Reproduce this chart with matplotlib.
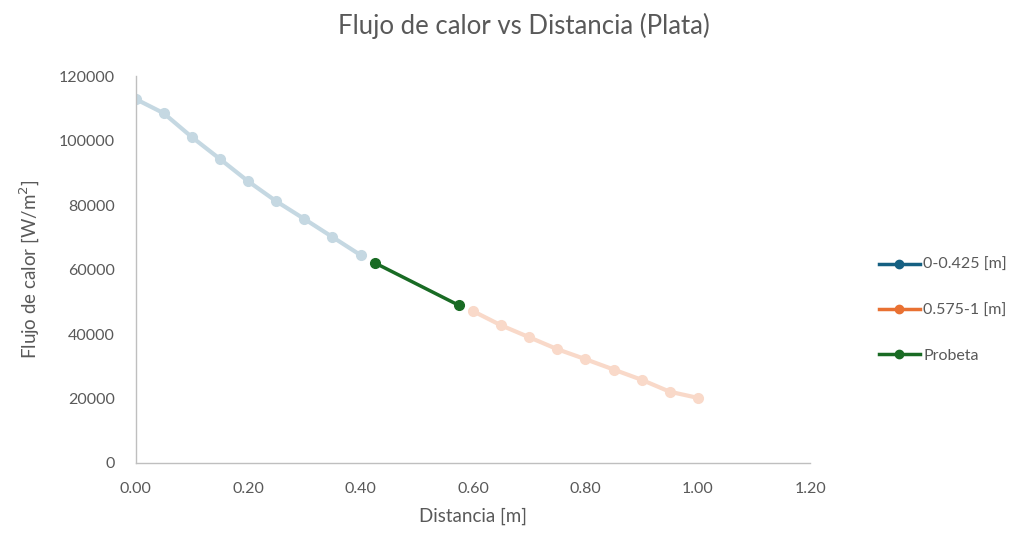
import numpy as np
import matplotlib.pyplot as plt

plt.rcParams['font.family'] = ['Lato', 'DejaVu Sans']

# datos
x_izq = [0.00, 0.05, 0.10, 0.15, 0.20, 0.25, 0.30, 0.35, 0.40]
q_izq = [112900, 108500, 101100, 94300, 87400, 81200, 75700, 70100, 64500]

x_der = [0.60, 0.65, 0.70, 0.75, 0.80, 0.85, 0.90, 0.95, 1.00]
q_der = [47100, 42700, 39000, 35300, 32200, 29000, 25800, 22100, 20200]

x_prob = [0.425, 0.575]
q_prob = [62100, 48900]

gris = '#595959'

fig = plt.figure(figsize=(10.35, 5.4), dpi=100)
ax = fig.add_axes([0.131, 0.1426, 0.652, 0.7164])

ax.plot(x_izq, q_izq, '-o', color='#c5d8e2', lw=3, ms=7, zorder=2)
ax.plot(x_der, q_der, '-o', color='#f9d9c9', lw=3, ms=7, zorder=2)
ax.plot(x_prob, q_prob, '-o', color='#196b24', lw=2.5, ms=7, zorder=3)

# entradas de la leyenda con los colores originales
h1, = ax.plot([], [], '-o', color='#156082', lw=2.5, ms=6, label='0-0.425 [m]')
h2, = ax.plot([], [], '-o', color='#e97132', lw=2.5, ms=6, label='0.575-1 [m]')
h3, = ax.plot([], [], '-o', color='#196b24', lw=2.5, ms=6, label='Probeta')

ax.set_xlim(0, 1.2)
ax.set_ylim(0, 120000)
ax.set_xticks(np.arange(0, 1.21, 0.2))
ax.set_xticklabels(['%.2f' % v for v in np.arange(0, 1.21, 0.2)])
ax.set_yticks(np.arange(0, 120001, 20000))

for s in ['top', 'right']:
    ax.spines[s].set_visible(False)
for s in ['left', 'bottom']:
    ax.spines[s].set_color('#bfbfbf')
    ax.spines[s].set_linewidth(1)
ax.tick_params(length=0, colors=gris, labelsize=11.5)
ax.tick_params(axis='x', pad=14)
ax.tick_params(axis='y', pad=15)

ax.set_xlabel('Distancia [m]', fontsize=13.5, color=gris, labelpad=8)
ax.set_ylabel('Flujo de calor [W/m$^2$]', fontsize=13.5, color=gris, labelpad=12)
ax.set_title('Flujo de calor vs Distancia (Plata)', fontsize=18.5, color=gris, pad=30, x=0.575)

leg = fig.legend(handles=[h1, h2, h3], loc='center left', bbox_to_anchor=(0.835, 0.425),
                 frameon=False, fontsize=11.5, labelspacing=1.95, handlelength=2.6,
                 handletextpad=0.2)
for t in leg.get_texts():
    t.set_color(gris)

fig.savefig('out.png', dpi=100)
